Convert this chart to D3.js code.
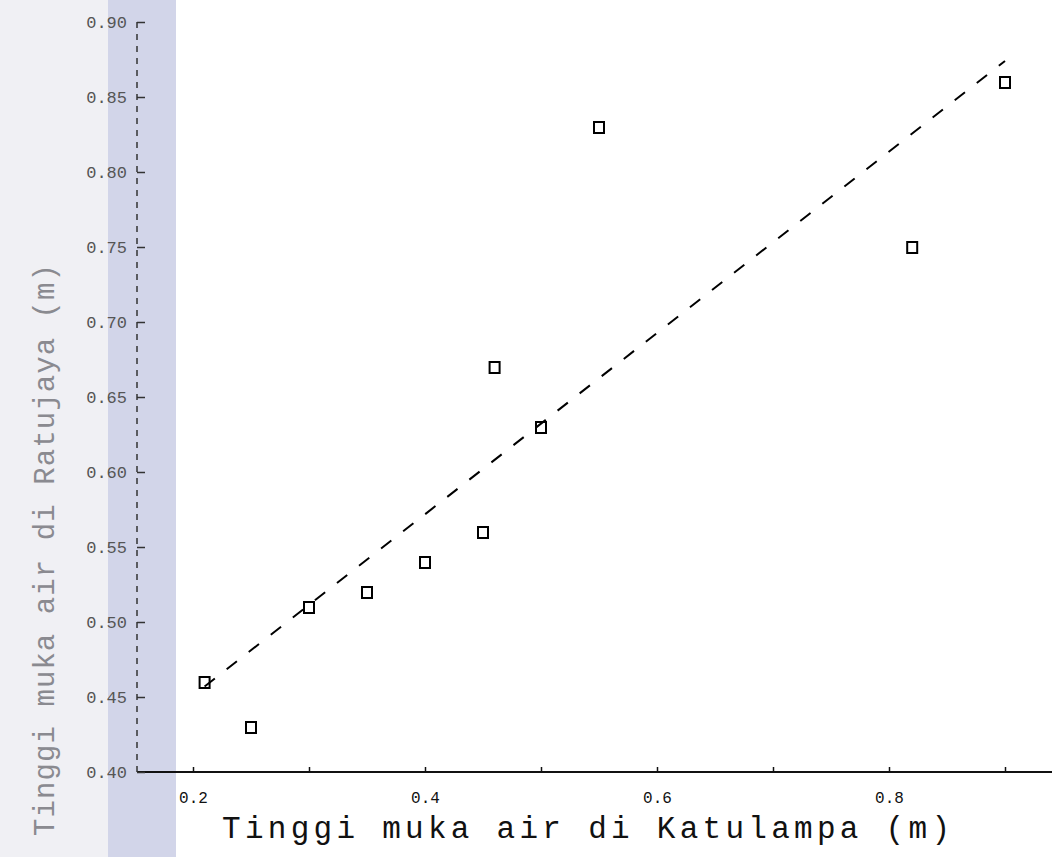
<!DOCTYPE html>
<html>
<head>
<meta charset="utf-8">
<script src="https://cdn.jsdelivr.net/npm/d3@7"></script>
<style>
body { margin: 0; background: #fff; }
.tick text { font-family: "Liberation Mono", "DejaVu Sans Mono", monospace; }
</style>
</head>
<body>
<div id="chart-area"></div>
<script>
// values
var katulampa = [0.21, 0.25, 0.30, 0.35, 0.40, 0.45, 0.46, 0.50, 0.55, 0.82, 0.90];
var ratujaya  = [0.46, 0.43, 0.51, 0.52, 0.54, 0.56, 0.67, 0.63, 0.83, 0.75, 0.86];
// ends of the dashed fit line
var fitX = [0.21, 0.90];
var fitY = [0.457, 0.874];
var xTicks = [0.2, 0.3, 0.4, 0.5, 0.6, 0.7, 0.8, 0.9];
var xLabels = [0.2, 0.4, 0.6, 0.8];
var yTicks = [0.40, 0.45, 0.50, 0.55, 0.60, 0.65, 0.70, 0.75, 0.80, 0.85, 0.90];

var width = 1052, height = 857;

var svg = d3.select("#chart-area")
    .append("svg")
        .attr("width", width)
        .attr("height", height);

// scan margins: light strip + lavender strip
svg.append("rect")
    .attr("x", 0).attr("y", 0)
    .attr("width", 108).attr("height", height)
    .attr("fill", "#f0f0f4");
svg.append("rect")
    .attr("x", 108).attr("y", 0)
    .attr("width", 68).attr("height", height)
    .attr("fill", "#d2d5e9");

var xScale = d3.scaleLinear()
    .domain([0.2, 0.9])
    .range([193, 1005]);
var yScale = d3.scaleLinear()
    .domain([0.4, 0.9])
    .range([772, 22]);

var axisX0 = 137;

// x axis
var xAxisCall = d3.axisBottom(xScale)
    .tickValues(xTicks)
    .tickSize(-5)
    .tickPadding(20)
    .tickFormat(function(d){
        return xLabels.indexOf(d) >= 0 ? d3.format(".1f")(d) : "";
    });

var xAxis = svg.append("g")
    .attr("class", "x axis")
    .attr("transform", "translate(0," + yScale(0.4) + ")")
    .call(xAxisCall);
xAxis.select(".domain").remove();
xAxis.selectAll("line").attr("stroke", "#111").attr("stroke-width", 1.5);
xAxis.selectAll("text")
    .attr("font-size", "16px")
    .attr("fill", "#111");

svg.append("line")
    .attr("x1", axisX0)
    .attr("x2", width)
    .attr("y1", yScale(0.4))
    .attr("y2", yScale(0.4))
    .attr("stroke", "#111")
    .attr("stroke-width", 2);

// y axis (dashed)
var yAxisCall = d3.axisLeft(yScale)
    .tickValues(yTicks)
    .tickSize(-8)
    .tickPadding(10)
    .tickFormat(d3.format(".2f"));

var yAxis = svg.append("g")
    .attr("class", "y axis")
    .attr("transform", "translate(" + axisX0 + ",0)")
    .call(yAxisCall);
yAxis.select(".domain").remove();
yAxis.selectAll("line").attr("stroke", "#333").attr("stroke-width", 1.5);
yAxis.selectAll("text")
    .attr("font-size", "17px")
    .attr("fill", "#555");

svg.append("line")
    .attr("x1", axisX0)
    .attr("x2", axisX0)
    .attr("y1", yScale(0.9))
    .attr("y2", yScale(0.4))
    .attr("stroke", "#333")
    .attr("stroke-width", 1.5)
    .attr("stroke-dasharray", "6,6");

// fit line
svg.append("line")
    .attr("x1", xScale(fitX[0]))
    .attr("y1", yScale(fitY[0]))
    .attr("x2", xScale(fitX[1]))
    .attr("y2", yScale(fitY[1]))
    .attr("stroke", "#000")
    .attr("stroke-width", 2)
    .attr("stroke-dasharray", "13,15");

// points
var pts = katulampa.map(function(d, i){
    return { x: d, y: ratujaya[i] };
});

svg.selectAll("rect.pt")
    .data(pts)
    .enter()
    .append("rect")
    .attr("class", "pt")
    .attr("x", function(d){ return xScale(d.x) - 5; })
    .attr("y", function(d){ return yScale(d.y) - 5; })
    .attr("width", 10)
    .attr("height", 11)
    .attr("fill", "none")
    .attr("stroke", "#000")
    .attr("stroke-width", 2);

// axis titles
svg.append("text")
    .attr("x", 586)
    .attr("y", 838)
    .attr("text-anchor", "middle")
    .attr("font-family", "Liberation Mono, monospace")
    .attr("font-size", "31px")
    .attr("textLength", 728)
    .attr("lengthAdjust", "spacing")
    .attr("fill", "#111")
    .text("Tinggi muka air di Katulampa (m)");

svg.append("text")
    .attr("transform", "translate(54,550) rotate(-90)")
    .attr("text-anchor", "middle")
    .attr("font-family", "Liberation Mono, monospace")
    .attr("font-size", "29px")
    .attr("textLength", 572)
    .attr("lengthAdjust", "spacing")
    .attr("fill", "#8a8a90")
    .text("Tinggi muka air di Ratujaya (m)");
</script>
</body>
</html>
